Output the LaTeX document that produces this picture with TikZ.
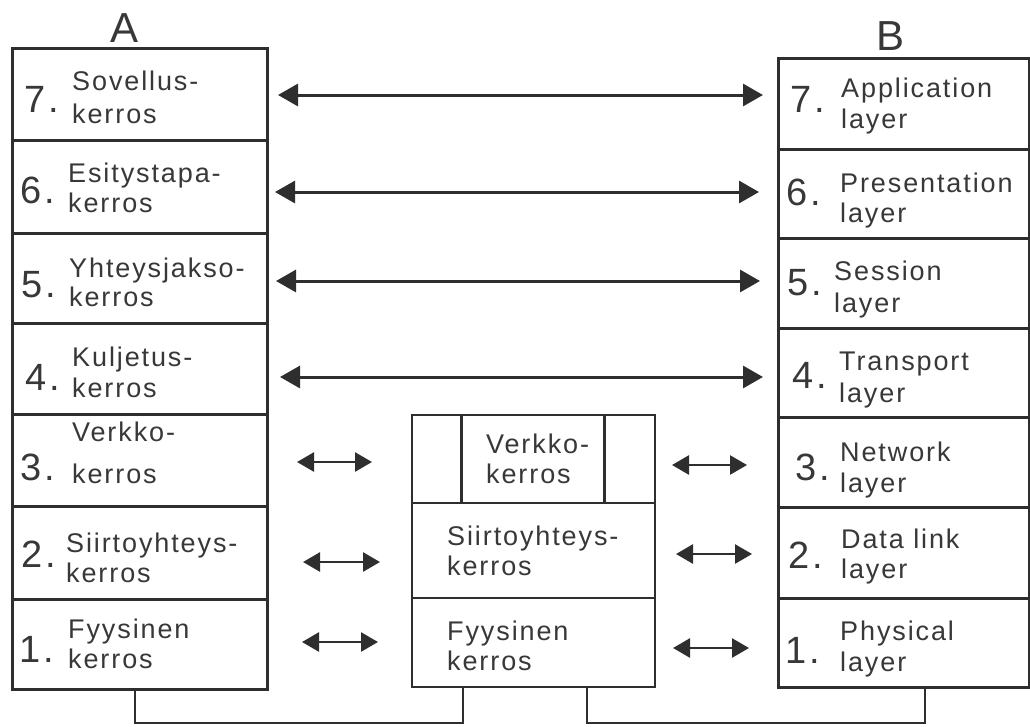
\documentclass[tikz,border=0pt]{standalone}
\usepackage{fontspec}
\setmainfont{Liberation Sans}
\newfontfamily\lblfont[LetterSpace=7]{Liberation Sans}
\usetikzlibrary{arrows.meta}
\definecolor{ink}{HTML}{2E2E2E}
\definecolor{txt}{HTML}{383838}
\tikzset{
  box/.style={draw=ink, line width=3pt, inner sep=0pt},
  midbox/.style={draw=ink, line width=2pt, inner sep=0pt},
  lbl/.style={anchor=base west, inner sep=0pt, text=txt, font=\lblfont\fontsize{27}{30}\selectfont},
  num/.style={anchor=base west, inner sep=0pt, text=txt, font=\fontsize{38}{38}\selectfont},
  head/.style={anchor=base, inner sep=0pt, text=txt, font=\fontsize{42}{42}\selectfont},
  bigarrow/.style={draw=ink, line width=3pt, {Triangle[length=20pt,width=22pt]}-{Triangle[length=20pt,width=22pt]}},
  smallarrow/.style={draw=ink, line width=2.6pt, {Triangle[length=17pt,width=19pt]}-{Triangle[length=17pt,width=19pt]}},
  wire/.style={draw=ink, line width=2.5pt}
}
\newcommand\cell[6][box]{\node[#1, minimum width={#5-#3}, minimum height={#6-#4}] (#2) at ({(#3+#5)/2},{(#4+#6)/2}) {};}
\newcommand\lab[4]{\node[lbl] (#1) at (#2,#3) {#4};}
\newcommand\dig[4]{\node[num] (#1) at (#2,#3) {#4\kern3pt.};}
\begin{document}
\begin{tikzpicture}[x=1pt,y=-1pt]
\useasboundingbox[fill=white] (0,0) rectangle (1030,726);

% column A
\cell{a7}{12}{48}{267}{140}
\cell{a6}{12}{140}{267}{233}
\cell{a5}{12}{233}{267}{323}
\cell{a4}{12}{323}{267}{414}
\cell{a3}{12}{414}{267}{506}
\cell{a2}{12}{506}{267}{599}
\cell{a1}{12}{599}{267}{689}

% column B
\cell{b7}{778}{58}{1029}{149}
\cell{b6}{778}{149}{1029}{238}
\cell{b5}{778}{238}{1029}{328}
\cell{b4}{778}{328}{1029}{417}
\cell{b3}{778}{417}{1029}{507}
\cell{b2}{778}{507}{1029}{598}
\cell{b1}{778}{598}{1029}{687}

% middle
\cell[midbox]{m3}{412}{415}{655}{503}
\cell[inner sep=0pt]{m3in}{462}{415}{604}{503}
\draw[box] (m3in.north west) -- (m3in.south west);
\draw[box] (m3in.north east) -- (m3in.south east);
\cell[midbox]{m2}{412}{503}{655}{598}
\cell[midbox]{m1}{412}{598}{655}{687}

% headings
\node[head] (hA) at (125,42) {A};
\node[head] (hB) at (890,50) {B};

% A texts
\dig{a7n}{24}{112}{7}\lab{a7t}{72}{90}{Sovellus-}\lab{a7u}{72}{123}{kerros}
\dig{a6n}{20}{203}{6}\lab{a6t}{68}{182}{Esitystapa-}\lab{a6u}{68}{212}{kerros}
\dig{a5n}{21}{297}{5}\lab{a5t}{69}{277}{Yhteysjakso-}\lab{a5u}{69}{306}{kerros}
\dig{a4n}{25}{390}{4}\lab{a4t}{72}{366}{Kuljetus-}\lab{a4u}{72}{397}{kerros}
\dig{a3n}{20}{480}{3}\lab{a3t}{72}{441}{Verkko-}\lab{a3u}{72}{483}{kerros}
\dig{a2n}{21}{567}{2}\lab{a2t}{66}{552}{Siirtoyhteys-}\lab{a2u}{66}{582}{kerros}
\dig{a1n}{19}{662}{1}\lab{a1t}{68}{638}{Fyysinen}\lab{a1u}{68}{668}{kerros}

% B texts
\dig{b7n}{790}{112}{7}\lab{b7t}{841}{97}{Application}\lab{b7u}{841}{128}{layer}
\dig{b6n}{786}{205}{6}\lab{b6t}{840}{192}{Presentation}\lab{b6u}{840}{222}{layer}
\dig{b5n}{787}{295}{5}\lab{b5t}{834}{280}{Session}\lab{b5u}{834}{312}{layer}
\dig{b4n}{792}{388}{4}\lab{b4t}{839}{370}{Transport}\lab{b4u}{839}{402}{layer}
\dig{b3n}{795}{480}{3}\lab{b3t}{840}{461}{Network}\lab{b3u}{840}{492}{layer}
\dig{b2n}{788}{568}{2}\lab{b2t}{841}{548}{Data link}\lab{b2u}{841}{578}{layer}
\dig{b1n}{785}{663}{1}\lab{b1t}{840}{640}{Physical}\lab{b1u}{840}{671}{layer}

% middle texts
\lab{m3t}{486}{453}{Verkko-}\lab{m3u}{486}{483}{kerros}
\lab{m2t}{447}{545}{Siirtoyhteys-}\lab{m2u}{447}{575}{kerros}
\lab{m1t}{447}{640}{Fyysinen}\lab{m1u}{447}{670}{kerros}

% arrow ends
\coordinate (l7) at (278,95);  \coordinate (r7) at (763,95);
\coordinate (l6) at (275,192); \coordinate (r6) at (759,192);
\coordinate (l5) at (276,281); \coordinate (r5) at (760,281);
\coordinate (l4) at (280,377); \coordinate (r4) at (763,377);
\coordinate (l3) at (297,462); \coordinate (k3) at (372,462);
\coordinate (p3) at (672,465); \coordinate (q3) at (747,465);
\coordinate (l2) at (303,562); \coordinate (k2) at (380,562);
\coordinate (p2) at (676,554); \coordinate (q2) at (752,554);
\coordinate (l1) at (302,642); \coordinate (k1) at (378,642);
\coordinate (p1) at (673,648); \coordinate (q1) at (749,648);

\draw[bigarrow] (l7) -- (r7);
\draw[bigarrow] (l6) -- (r6);
\draw[bigarrow] (l5) -- (r5);
\draw[bigarrow] (l4) -- (r4);
\draw[smallarrow] (l3) -- (k3);
\draw[smallarrow] (p3) -- (q3);
\draw[smallarrow] (l2) -- (k2);
\draw[smallarrow] (p2) -- (q2);
\draw[smallarrow] (l1) -- (k1);
\draw[smallarrow] (p1) -- (q1);

% bottom links
\coordinate (w1) at (135,723);
\coordinate (w2) at (463,723);
\coordinate (w3) at (587,723);
\coordinate (w4) at (925,723);
\draw[wire] (a1.south -| w1) -- (w1) -- (w2) -- (m1.south -| w2);
\draw[wire] (m1.south -| w3) -- (w3) -- (w4) -- (b1.south -| w4);
\end{tikzpicture}
\end{document}
